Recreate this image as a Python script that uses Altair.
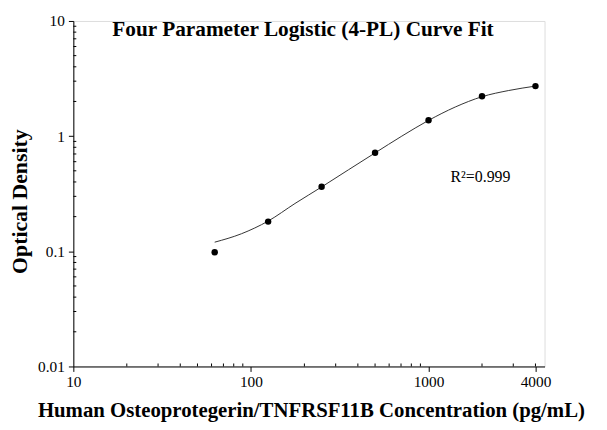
import altair as alt
import pandas as pd

# Measured standards
conc = [62.5, 125, 250, 500, 1000, 2000, 4000]
od = [0.098, 0.181, 0.364, 0.718, 1.373, 2.22, 2.72]

# Fitted 4-PL curve
fit_x = [62.5, 88.4, 125, 177, 250, 354, 500, 707, 1000, 1414, 2000, 2828, 4000]
fit_y = [0.120, 0.142, 0.183, 0.26, 0.362, 0.51, 0.715, 1.0, 1.37, 1.79, 2.2, 2.49, 2.72]

# Axis ticks
x_major = [10, 100, 1000, 4000]
y_major = [0.01, 0.1, 1, 10]
x_minor = [20, 30, 40, 50, 60, 70, 80, 90, 200, 300, 400, 500, 600, 700, 800, 900, 2000, 3000, 4000]
y_minor = [0.02, 0.03, 0.04, 0.05, 0.06, 0.07, 0.08, 0.09,
           0.2, 0.3, 0.4, 0.5, 0.6, 0.7, 0.8, 0.9,
           2, 3, 4, 5, 6, 7, 8, 9]

title_text = ["Four Parameter Logistic (4-PL) Curve Fit"]
r2_text = ["R\u00b2=0.999"]
r2_x = [1330]
r2_y = [0.397]

FONT = "Liberation Serif"
W, H = 476, 349

pts = pd.DataFrame({"conc": conc, "od": od})
fit = pd.DataFrame({"conc": fit_x, "od": fit_y})
xm = pd.DataFrame({"conc": x_minor})
ym = pd.DataFrame({"od": y_minor})
tt = pd.DataFrame({"t": title_text})
r2 = pd.DataFrame({"t": r2_text, "conc": r2_x, "od": r2_y})

xscale = alt.Scale(type="log", domain=[10, 4500], nice=False)
yscale = alt.Scale(type="log", domain=[0.01, 10], nice=False)

xaxis = alt.Axis(
    values=x_major, format="~g", grid=False,
    title="Human Osteoprotegerin/TNFRSF11B Concentration (pg/mL)",
    titleFont=FONT, titleFontSize=21, titleFontWeight="bold", titleColor="black",
    titleX=240, titleY=45, titleBaseline="middle", titleAnchor="middle", titleAlign="center",
    labelFont=FONT, labelFontSize=15.5, labelColor="black", labelPadding=3,
    labelFlush=False, tickSize=5, tickColor="black", domainColor="black",
)
yaxis = alt.Axis(
    values=y_major, format="~g", grid=False,
    title="Optical Density",
    titleFont=FONT, titleFontSize=22, titleFontWeight="bold", titleColor="black",
    titleX=-54, titleY=182, titleBaseline="middle", titleAlign="center", titleAngle=270,
    labelFont=FONT, labelFontSize=15.5, labelColor="black", labelPadding=4,
    labelFlush=False, tickSize=5, tickColor="black", domainColor="black",
)

base_x = alt.X("conc:Q", scale=xscale, axis=xaxis)
base_y = alt.Y("od:Q", scale=yscale, axis=yaxis)

line = alt.Chart(fit).mark_line(color="#333333", strokeWidth=1, interpolate="monotone").encode(
    x=base_x, y=base_y
)
points = alt.Chart(pts).mark_circle(color="black", size=42, opacity=1).encode(
    x="conc:Q", y="od:Q"
)
xminor = alt.Chart(xm).mark_rule(color="black", strokeWidth=1).encode(
    x="conc:Q", y=alt.value(H - 3), y2=alt.value(H)
)
yminor = alt.Chart(ym).mark_rule(color="black", strokeWidth=1).encode(
    y="od:Q", x=alt.value(0), x2=alt.value(3)
)
title = alt.Chart(tt).mark_text(
    font=FONT, fontSize=21.5, fontWeight="bold", color="black", align="center", baseline="alphabetic"
).encode(x=alt.value(232), y=alt.value(15), text="t:N")
r2lab = alt.Chart(r2).mark_text(
    font=FONT, fontSize=16, color="black", align="left", baseline="alphabetic"
).encode(x="conc:Q", y="od:Q", text="t:N")

chart = alt.layer(line, xminor, yminor, points, title, r2lab).properties(
    width=W, height=H,
    autosize=alt.AutoSizeParams(type="none"),
    padding={"left": 66, "top": 11, "right": 55, "bottom": 54},
).configure_view(stroke=None).configure(background="white")

chart.save("out.html", embed_options={"renderer": "svg", "actions": False})
